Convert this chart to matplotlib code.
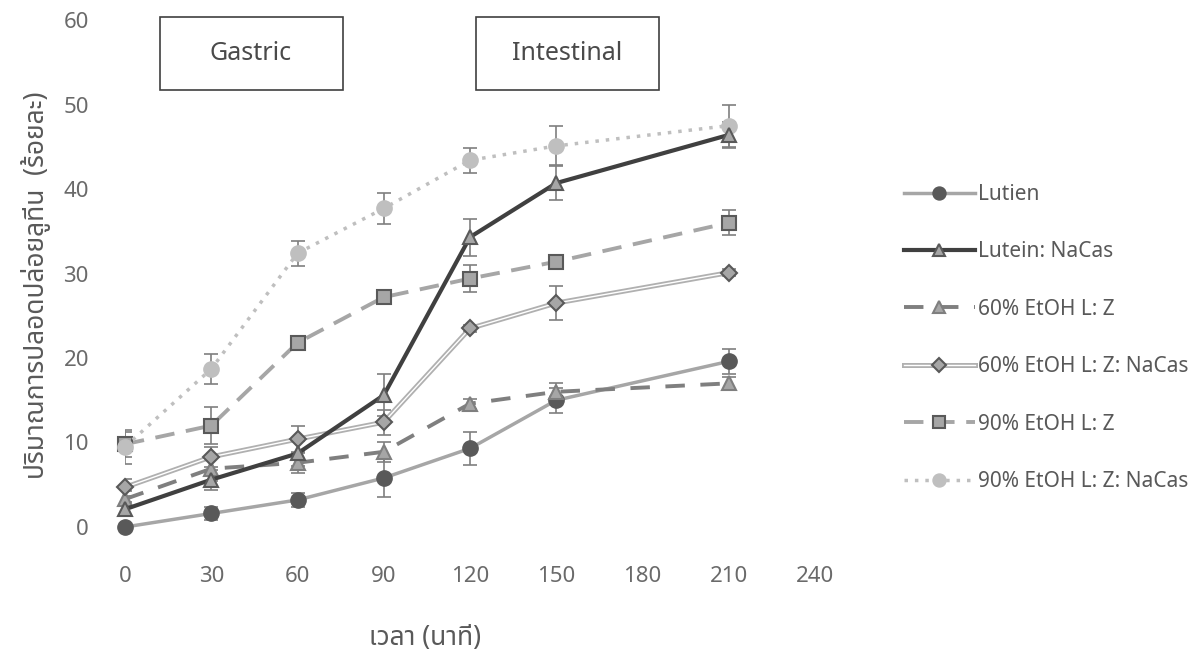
import matplotlib
matplotlib.use("Agg")
import matplotlib.pyplot as plt
import matplotlib.patheffects as pe
from matplotlib.patches import Rectangle
from matplotlib.legend_handler import HandlerTuple

plt.rcParams['font.family'] = ['Noto Sans Thai', 'Loma', 'Garuda', 'Noto Sans', 'DejaVu Sans']

# เวลา (นาที)
time = [0, 30, 60, 90, 120, 150, 210]
x_ticks = [0, 30, 60, 90, 120, 150, 180, 210, 240]
y_ticks = [0, 10, 20, 30, 40, 50, 60]

lutien = [0.0, 1.6, 3.2, 5.8, 9.3, 15.0, 19.6]
lutien_err = [0.3, 0.8, 0.8, 2.2, 2.0, 1.5, 1.5]

lutein_nacas = [2.1, 5.6, 8.7, 15.6, 34.3, 40.7, 46.4]
lutein_nacas_err = [0.8, 1.2, 1.5, 2.5, 2.2, 2.0, 1.5]

etoh60_lz = [3.3, 6.9, 7.6, 8.9, 14.6, 16.0, 17.0]
etoh60_lz_err = [1.0, 1.5, 1.2, 1.2, 0.6, 1.0, 0.8]

etoh60_lz_nacas = [4.7, 8.3, 10.4, 12.4, 23.5, 26.5, 30.1]
etoh60_lz_nacas_err = [1.0, 1.2, 1.5, 1.5, 0.4, 2.0, 0.4]

etoh90_lz = [9.8, 12.0, 21.8, 27.2, 29.4, 31.4, 36.0]
etoh90_lz_err = [1.5, 2.2, 0.8, 0.5, 1.6, 0.5, 1.5]

etoh90_lz_nacas = [9.5, 18.7, 32.4, 37.7, 43.4, 45.1, 47.5]
etoh90_lz_nacas_err = [2.0, 1.8, 1.5, 1.8, 1.5, 2.3, 2.5]

fig = plt.figure(figsize=(11.99, 6.55), dpi=100)
ax = fig.add_axes([125 / 1199, 1 - 527 / 655, 690 / 1199, 507 / 655])

err_kw = dict(ecolor='#7f7f7f', elinewidth=1.2, capsize=5, capthick=1.2, linestyle='none', zorder=2)

handles = []

# Lutien
ax.errorbar(time, lutien, yerr=lutien_err, **err_kw)
h, = ax.plot(time, lutien, color='#a6a6a6', lw=2.5, marker='o', ms=11,
             mfc='#595959', mec='#595959', zorder=3, clip_on=False)
handles.append(h)

# Lutein: NaCas
ax.errorbar(time, lutein_nacas, yerr=lutein_nacas_err, **err_kw)
h, = ax.plot(time, lutein_nacas, color='#404040', lw=3, marker='^', ms=10.5,
             mfc='#a6a6a6', mec='#595959', mew=1.5, zorder=4, clip_on=False)
handles.append(h)

# 60% EtOH L: Z
ax.errorbar(time, etoh60_lz, yerr=etoh60_lz_err, **err_kw)
h, = ax.plot(time, etoh60_lz, color='#7f7f7f', lw=2.8, ls=(0, (5, 4)), marker='^', ms=10.5,
             mfc='#a6a6a6', mec='#7f7f7f', mew=1.5, zorder=3, clip_on=False)
handles.append(h)

# 60% EtOH L: Z: NaCas (เส้นคู่)
ax.errorbar(time, etoh60_lz_nacas, yerr=etoh60_lz_nacas_err, **err_kw)
ln, = ax.plot(time, etoh60_lz_nacas, color='white', lw=1.0, zorder=3,
              path_effects=[pe.Stroke(linewidth=3.6, foreground='#b0b0b0'), pe.Normal()])
mk, = ax.plot(time, etoh60_lz_nacas, ls='none', marker='D', ms=8.5,
              mfc='#a6a6a6', mec='#595959', mew=1.5, zorder=3, clip_on=False)
handles.append((ln, mk))

# 90% EtOH L: Z
ax.errorbar(time, etoh90_lz, yerr=etoh90_lz_err, **err_kw)
h, = ax.plot(time, etoh90_lz, color='#a6a6a6', lw=2.8, ls=(0, (5, 3)), marker='s', ms=10,
             mfc='#a6a6a6', mec='#595959', mew=1.5, zorder=3, clip_on=False)
handles.append(h)

# 90% EtOH L: Z: NaCas
ax.errorbar(time, etoh90_lz_nacas, yerr=etoh90_lz_nacas_err, **err_kw)
h, = ax.plot(time, etoh90_lz_nacas, color='#bfbfbf', lw=2.5, ls=(0, (1, 2)), marker='o', ms=11,
             mfc='#bfbfbf', mec='#bfbfbf', zorder=3, clip_on=False)
handles.append(h)

labels = ['Lutien', 'Lutein: NaCas', '60% EtOH L: Z', '60% EtOH L: Z: NaCas',
          '90% EtOH L: Z', '90% EtOH L: Z: NaCas']

ax.set_xlim(0, 240)
ax.set_ylim(0, 60)
ax.set_xticks(x_ticks)
ax.set_yticks(y_ticks)
for s in ax.spines.values():
    s.set_visible(False)
ax.tick_params(axis='both', length=0, labelsize=16, labelcolor='#6a6a6a')
ax.tick_params(axis='x', pad=28)
ax.tick_params(axis='y', pad=26)

fig.text(425 / 1199, 1 - 638 / 655, 'เวลา (นาที)', ha='center', va='center',
         fontsize=19, color='#595959')
fig.text(36 / 1199, 1 - 285 / 655, 'ปริมาณการปลอดปล่อยลูทีน  (ร้อยละ)', ha='center', va='center',
         rotation=90, fontsize=19, color='#595959')

# กล่อง Gastric / Intestinal
for x0, txt in [(160, 'Gastric'), (476, 'Intestinal')]:
    fig.patches.append(Rectangle((x0 / 1199, 1 - 90 / 655), 183 / 1199, 73 / 655,
                                 transform=fig.transFigure, fill=False,
                                 edgecolor='#404040', lw=1.2))
    fig.text((x0 + 91) / 1199, 1 - 54 / 655, txt, ha='center', va='center',
             fontsize=18, color='#4a4a4a')

fig.legend(handles, labels, handler_map={tuple: HandlerTuple(ndivide=1, pad=0)},
           loc='center left', bbox_to_anchor=(885 / 1199, 1 - 338 / 655),
           frameon=False, fontsize=15, labelcolor='#595959', markerscale=0.85,
           handlelength=3.4, handletextpad=0.15, labelspacing=1.75)

fig.savefig('out.png', dpi=100)
